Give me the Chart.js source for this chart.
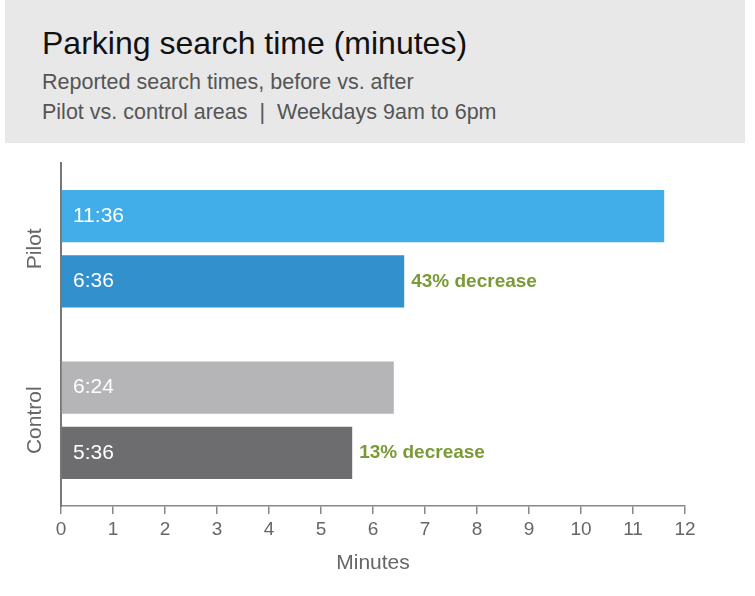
<!DOCTYPE html>
<html>
<head>
<meta charset="utf-8">
<script src="https://cdn.jsdelivr.net/npm/chart.js@4"></script>
<style>
  body { margin: 0; background: #fff; font-family: "Liberation Sans", Arial, sans-serif; }
  #head { position: absolute; left: 5px; top: 0; width: 740px; height: 143px; background: #e8e8e9; }
  #head h1 { margin: 0; position: absolute; left: 37px; top: 25px; font-size: 32px; font-weight: normal; color: #111; }
  #head p { margin: 0; position: absolute; left: 37px; font-size: 21.5px; color: #555; }
  #wrap { position: absolute; left: 0; top: 143px; width: 755px; height: 453px; }
</style>
</head>
<body>
<div id="head">
  <h1>Parking search time (minutes)</h1>
  <p style="top:70px">Reported search times, before vs. after</p>
  <p style="top:100px">Pilot vs. control areas &nbsp;|&nbsp; Weekdays 9am to 6pm</p>
</div>
<div id="wrap"><canvas id="c"></canvas></div>
<script>
// minutes, decimal
var groups = ["Pilot", "Control"];
var beforeVals = [11.6, 6.4];
var afterVals = [6.6, 5.6];
var beforeText = ["11:36", "6:24"];
var afterText = ["6:36", "5:36"];
var changeText = ["43% decrease", "13% decrease"];
var xTicks = [0, 1, 2, 3, 4, 5, 6, 7, 8, 9, 10, 11, 12];

var labelPlugin = {
  id: "labels",
  afterDatasetsDraw: function (chart) {
    var ctx = chart.ctx;
    ctx.save();
    ctx.textBaseline = "middle";
    var m0 = chart.getDatasetMeta(0), m1 = chart.getDatasetMeta(1);
    for (var i = 0; i < groups.length; i++) {
      ctx.textAlign = "left";
      ctx.fillStyle = "#fff";
      ctx.font = "21px 'Liberation Sans', Arial, sans-serif";
      ctx.fillText(beforeText[i], chart.chartArea.left + 12, m0.data[i].y);
      ctx.fillText(afterText[i], chart.chartArea.left + 12, m1.data[i].y);
      ctx.fillStyle = "#7a9a35";
      ctx.font = "bold 19px 'Liberation Sans', Arial, sans-serif";
      ctx.fillText(changeText[i], m1.data[i].x + 7, m1.data[i].y);
      // group label, rotated
      var yc = (m0.data[i].y + m1.data[i].y) / 2;
      ctx.save();
      ctx.translate(35, yc);
      ctx.rotate(-Math.PI / 2);
      ctx.textAlign = "center";
      ctx.fillStyle = "#666";
      ctx.font = "21px 'Liberation Sans', Arial, sans-serif";
      ctx.fillText(groups[i], 0, 0);
      ctx.restore();
    }
    ctx.restore();
  }
};

new Chart(document.getElementById("c"), {
  type: "bar",
  data: {
    labels: groups,
    datasets: [
      { label: "Before", data: beforeVals, backgroundColor: ["#41aeea", "#b5b5b8"] },
      { label: "After", data: afterVals, backgroundColor: ["#3290cd", "#6d6d70"] }
    ]
  },
  options: {
    indexAxis: "y",
    responsive: true,
    maintainAspectRatio: false,
    animation: false,
    categoryPercentage: 0.76,
    barPercentage: 0.8,
    layout: { padding: { left: 53, right: 70, top: 20, bottom: 16 } },
    plugins: { legend: { display: false }, tooltip: { enabled: false } },
    scales: {
      x: {
        min: 0, max: 12,
        afterBuildTicks: function (s) { s.ticks = xTicks.map(function (v) { return { value: v }; }); },
        grid: { drawOnChartArea: false, color: "#888", tickLength: 8, lineWidth: 1.5 },
        border: { color: "#888", width: 1.5 },
        ticks: { color: "#666", font: { size: 19, family: "'Liberation Sans', Arial, sans-serif" }, padding: 4 },
        title: { display: true, text: "Minutes", color: "#666", font: { size: 21, family: "'Liberation Sans', Arial, sans-serif" }, padding: { top: 6 } }
      },
      y: {
        ticks: { display: false },
        grid: { display: false },
        border: { color: "#777", width: 2 }
      }
    }
  },
  plugins: [labelPlugin]
});
</script>
</body>
</html>
